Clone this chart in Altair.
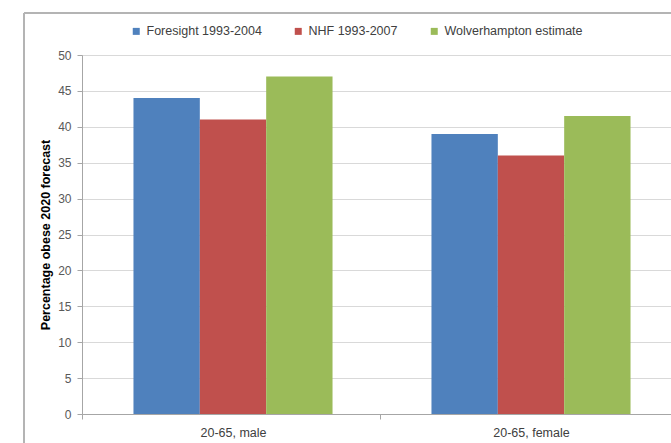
import altair as alt
import pandas as pd

# Forecast share of obese adults in 2020, by group and source
groups = ["20-65, male", "20-65, female"]
sources = ["Foresight 1993-2004", "NHF 1993-2007", "Wolverhampton estimate"]
foresight = [44, 39]
nhf = [41, 36]
wolverhampton = [47, 41.5]
colors = ["#4F81BD", "#C0504D", "#9BBB59"]

rows = []
for series_name, values in zip(sources, [foresight, nhf, wolverhampton]):
    for g, v in zip(groups, values):
        rows.append({"group": g, "source": series_name, "value": v})
df = pd.DataFrame(rows)

FONT = "Liberation Sans"
STEP = 298  # pixel width of one category slot on the x axis

bars = alt.Chart(df).mark_bar().encode(
    x=alt.X(
        "group:N",
        sort=groups,
        title=None,
        scale=alt.Scale(range=[0, 600], paddingInner=0.332, paddingOuter=0.1727),
        axis=alt.Axis(
            labelAngle=0,
            labelFontSize=12.5,
            labelColor="#404040",
            labelPadding=7,
            # ticks sit between categories, labels stay centred
            tickOffset=-151,
            labelOffset=151,
            tickSize=5,
            tickColor="#A6A6A6",
            domainColor="#A6A6A6",
        ),
    ),
    xOffset=alt.XOffset("source:N", sort=sources, scale=alt.Scale(paddingInner=0, paddingOuter=0)),
    y=alt.Y(
        "value:Q",
        title="Percentage obese 2020 forecast",
        scale=alt.Scale(domain=[0, 50], nice=False),
        axis=alt.Axis(
            values=list(range(0, 51, 5)),
            labelFontSize=12,
            labelColor="#595959",
            labelPadding=6,
            tickSize=5,
            tickColor="#A6A6A6",
            domainColor="#A6A6A6",
            gridColor="#D9D9D9",
            titleFontSize=12.5,
            titleFontWeight="bold",
            titleColor="#000000",
            titlePadding=5,
        ),
    ),
    color=alt.Color(
        "source:N",
        sort=sources,
        scale=alt.Scale(domain=sources, range=colors),
        legend=alt.Legend(
            title=None,
            orient="none",
            direction="horizontal",
            legendX=48,
            legendY=-30,
            symbolType="square",
            symbolSize=49,
            symbolStrokeWidth=0,
            labelFontSize=12.5,
            labelColor="#404040",
            labelOffset=4,
            columnPadding=30,
        ),
    ),
)

# Outer chart frame (left and top edges)
frame_left = alt.Chart(df).mark_rule(color="#B4B4B4", strokeWidth=1.5).encode(
    x=alt.value(-58), y=alt.value(-42), y2=alt.value(420)
)
frame_top = alt.Chart(df).mark_rule(color="#B4B4B4", strokeWidth=1.5).encode(
    x=alt.value(-58), x2=alt.value(700), y=alt.value(-42)
)

chart = alt.layer(bars, frame_left, frame_top).properties(
    width=589,
    height=359,
    autosize=alt.AutoSizeParams(type="none"),
    padding={"left": 82, "top": 55, "right": 0, "bottom": 29},
).configure_view(stroke=None).configure(
    font=FONT
)

chart.save("out.html", embed_options={"renderer": "svg", "actions": False})
